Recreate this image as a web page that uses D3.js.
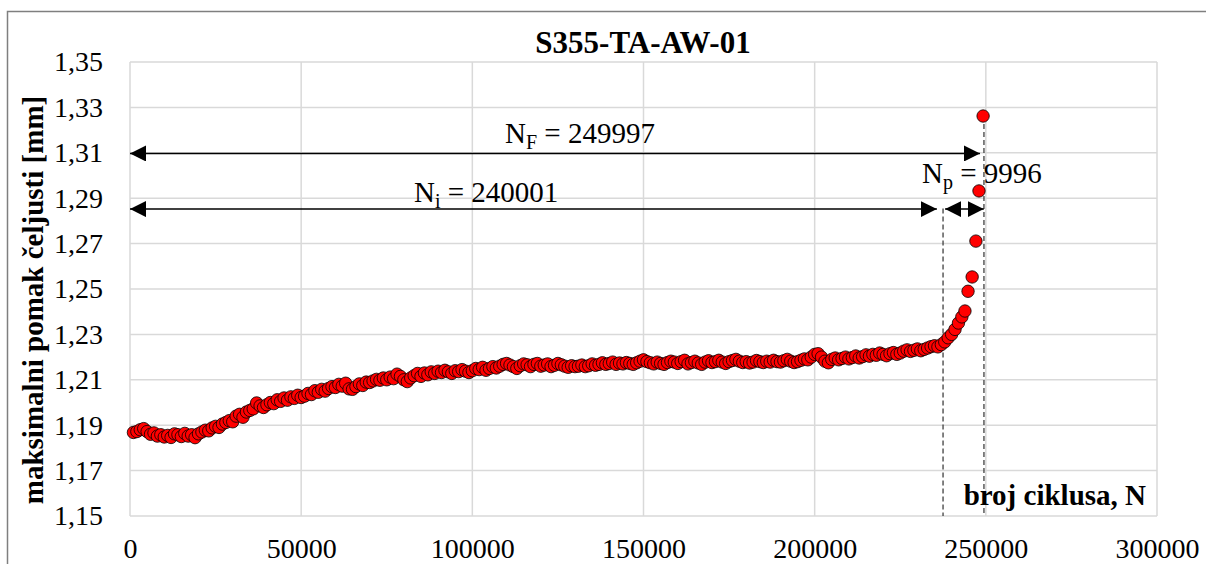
<!DOCTYPE html>
<html>
<head>
<meta charset="utf-8">
<script src="https://cdn.jsdelivr.net/npm/d3@7"></script>
<style>
  body { margin: 0; background: #fff; }
  svg text { font-family: "Liberation Serif", "Times New Roman", serif; fill: #000; }
</style>
</head>
<body>
<svg width="1206" height="564"></svg>
<script>
// regular samples, one every 1000 cycles starting at 1000
var sampleStep = 1000;
var dispMain = [
  1.1868,1.1872,1.1880,1.1885,1.1872,1.1860,1.1866,1.1852,1.1858,1.1848,
  1.1855,1.1846,1.1862,1.1858,1.1850,1.1864,1.1852,1.1858,1.1845,1.1862,
  1.1870,1.1878,1.1875,1.1888,1.1895,1.1890,1.1905,1.1912,1.1920,1.1915,
  1.1940,1.1948,1.1935,1.1958,1.1965,1.1972,1.1998,1.1985,1.1978,1.1990,
  1.2000,1.1995,1.2012,1.2005,1.2020,1.2010,1.2025,1.2018,1.2032,1.2022,
  1.2028,1.2040,1.2035,1.2052,1.2045,1.2058,1.2050,1.2062,1.2070,1.2066,
  1.2080,1.2072,1.2085,1.2060,1.2058,1.2070,1.2082,1.2075,1.2090,1.2088,
  1.2095,1.2102,1.2098,1.2108,1.2100,1.2112,1.2105,1.2125,1.2115,1.2100,
  1.2092,1.2108,1.2118,1.2128,1.2115,1.2130,1.2122,1.2135,1.2128,1.2138,
  1.2132,1.2142,1.2135,1.2128,1.2140,1.2136,1.2145,1.2138,1.2132,1.2140,
  1.2150,1.2145,1.2155,1.2142,1.2150,1.2158,1.2152,1.2160,1.2168,1.2172,
  1.2165,1.2158,1.2150,1.2162,1.2170,1.2166,1.2158,1.2168,1.2172,1.2160,
  1.2165,1.2170,1.2158,1.2164,1.2172,1.2166,1.2160,1.2155,1.2162,1.2158,
  1.2160,1.2165,1.2158,1.2162,1.2170,1.2164,1.2168,1.2175,1.2168,1.2172,
  1.2178,1.2168,1.2174,1.2170,1.2176,1.2172,1.2168,1.2175,1.2182,1.2188,
  1.2180,1.2175,1.2170,1.2178,1.2172,1.2168,1.2176,1.2182,1.2178,1.2172,
  1.2180,1.2186,1.2170,1.2176,1.2182,1.2174,1.2168,1.2178,1.2184,1.2176,
  1.2180,1.2186,1.2178,1.2172,1.2180,1.2185,1.2190,1.2182,1.2176,1.2180,
  1.2174,1.2178,1.2185,1.2180,1.2176,1.2182,1.2178,1.2186,1.2180,1.2178,
  1.2184,1.2190,1.2182,1.2176,1.2180,1.2186,1.2192,1.2188,1.2200,1.2212,
  1.2215,1.2200,1.2182,1.2175,1.2190,1.2196,1.2188,1.2194,1.2200,1.2192,
  1.2198,1.2205,1.2196,1.2202,1.2210,1.2204,1.2212,1.2208,1.2218,1.2212,
  1.2206,1.2215,1.2220,1.2212,1.2218,1.2226,1.2232,1.2225,1.2230,1.2236,
  1.2228,1.2234,1.2240,1.2246,1.2250,1.2245
];
// last cycles before failure
var tailCycles = [237000, 238000, 239000, 240000, 241000, 242000, 243000, 243900, 244800, 246000, 247100, 248000, 249200];
var tailDisp = [1.2255, 1.2267, 1.2285, 1.2300, 1.2322, 1.2350, 1.2377, 1.2403, 1.2490, 1.2553, 1.2711, 1.2932, 1.3262];

var xTicks = [0, 50000, 100000, 150000, 200000, 250000, 300000];
var yTicks = [1.15, 1.17, 1.19, 1.21, 1.23, 1.25, 1.27, 1.29, 1.31, 1.33, 1.35];

var NF = 249997, Ni = 240001, Np = 9996;

var serif = '"Liberation Serif", "Times New Roman", serif';

function main() {
    var svg = d3.select("svg"),
        width = +svg.attr("width"),
        height = +svg.attr("height");

    var left = 130, right = 1157, top = 62, bottom = 516;

    var x = d3.scaleLinear().domain([0, 300000]).range([left, right]);
    var y = d3.scaleLinear().domain([1.15, 1.35]).range([bottom, top]);

    var points = dispMain.map(function(v, i) { return { n: (i + 1) * sampleStep, v: v }; });
    tailCycles.forEach(function(n, i) { points.push({ n: n, v: tailDisp[i] }); });

    // chart frame (runs off the right and bottom of the picture)
    svg.append("rect")
        .attr("x", 7.5).attr("y", 11.5)
        .attr("width", 1220).attr("height", 580)
        .attr("fill", "none").attr("stroke", "#7f7f7f").attr("stroke-width", 1.5);

    // grid
    var grid = svg.append("g").attr("stroke", "#d9d9d9").attr("stroke-width", 1.5);
    grid.selectAll(".gx").data(xTicks).enter().append("line")
        .attr("x1", function(d) { return x(d); }).attr("x2", function(d) { return x(d); })
        .attr("y1", top).attr("y2", bottom);
    grid.selectAll(".gy").data(yTicks).enter().append("line")
        .attr("x1", left).attr("x2", right)
        .attr("y1", function(d) { return y(d); }).attr("y2", function(d) { return y(d); });

    // axes (labels only, Excel style)
    var fmt = function(d) { return d3.format(".2f")(d).replace(".", ","); };
    var yAxis = svg.append("g").attr("transform", "translate(" + (left - 24) + ",0)")
        .call(d3.axisLeft(y).tickValues(yTicks).tickFormat(fmt).tickSize(0));
    var xAxis = svg.append("g").attr("transform", "translate(0," + (bottom + 19) + ")")
        .call(d3.axisBottom(x).tickValues(xTicks).tickFormat(d3.format("d")).tickSize(0));
    [xAxis, yAxis].forEach(function(a) {
        a.attr("font-family", serif).attr("font-size", 28);
        a.select(".domain").remove();
        a.selectAll("text").style("font-family", serif).style("font-size", "28px");
    });

    // dashed guide lines
    var dash = svg.append("g").attr("stroke", "#404040").attr("stroke-width", 1.3)
        .attr("stroke-dasharray", "5,3");
    dash.append("line").attr("x1", x(237500)).attr("x2", x(237500)).attr("y1", y(1.2855)).attr("y2", bottom);
    dash.append("line").attr("x1", x(249450)).attr("x2", x(249450)).attr("y1", y(1.3262)).attr("y2", bottom);

    // data points
    svg.append("g").selectAll("circle").data(points).enter().append("circle")
        .attr("cx", function(d) { return x(d.n); })
        .attr("cy", function(d) { return y(d.v); })
        .attr("r", 6.2)
        .attr("fill", "#ff0000")
        .attr("stroke", "#000").attr("stroke-width", 0.8);

    // arrows
    var defs = svg.append("defs");
    defs.append("marker").attr("id", "ah")
        .attr("viewBox", "0 0 16 16").attr("refX", 16).attr("refY", 8)
        .attr("markerUnits", "userSpaceOnUse")
        .attr("markerWidth", 16).attr("markerHeight", 16)
        .attr("orient", "auto-start-reverse")
        .append("path").attr("d", "M0,0 L16,8 L0,16 Z").attr("fill", "#000");

    function arrow(n1, n2, v) {
        svg.append("line")
            .attr("x1", x(n1)).attr("x2", x(n2))
            .attr("y1", y(v)).attr("y2", y(v))
            .attr("stroke", "#000").attr("stroke-width", 1.5)
            .attr("marker-start", "url(#ah)").attr("marker-end", "url(#ah)");
    }
    arrow(0, 248300, 1.3097);
    arrow(0, 235700, 1.2852);
    arrow(238100, 249400, 1.2852);

    function label(xp, yp, sub, val) {
        var t = svg.append("text").attr("x", xp).attr("y", yp)
            .style("font-size", "29px");
        t.append("tspan").text("N");
        t.append("tspan").attr("dy", 6).style("font-size", "20px").text(sub);
        t.append("tspan").attr("dy", -6).text(" = " + val);
    }
    label(505, 143, "F", NF);
    label(414, 202, "i", Ni);
    label(922, 183, "p", Np);

    // titles
    svg.append("text").attr("x", 643).attr("y", 53)
        .attr("text-anchor", "middle")
        .style("font-size", "31px").style("font-weight", "bold")
        .text("S355-TA-AW-01");

    svg.append("text")
        .attr("transform", "translate(43," + 300 + ") rotate(-90)")
        .attr("text-anchor", "middle")
        .style("font-size", "29px").style("font-weight", "bold")
        .text("maksimalni pomak čeljusti [mm]");

    svg.append("text").attr("x", 1146).attr("y", 505)
        .attr("text-anchor", "end")
        .style("font-size", "29px").style("font-weight", "bold")
        .text("broj ciklusa, N");
}
main();
</script>
</body>
</html>
